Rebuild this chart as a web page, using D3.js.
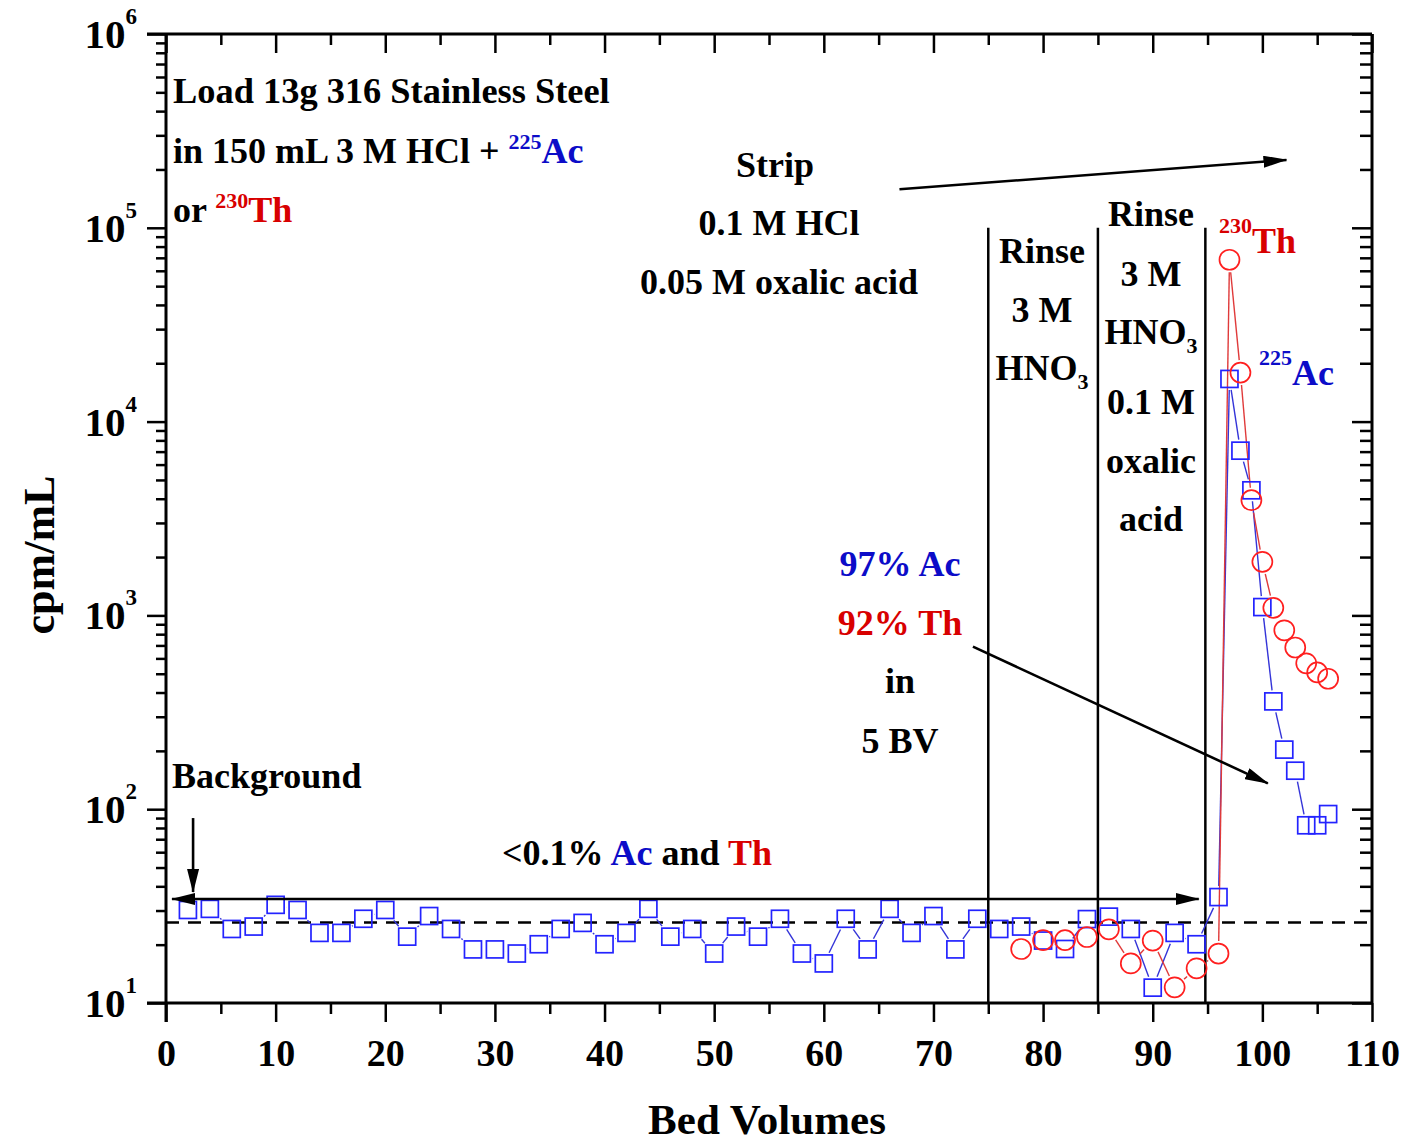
<!DOCTYPE html>
<html>
<head>
<meta charset="utf-8">
<script src="https://cdn.jsdelivr.net/npm/d3@7"></script>
<style>
  body { margin: 0; background: #fff; }
  svg text { font-family: "Liberation Serif", "Times New Roman", serif; font-weight: bold; }
</style>
</head>
<body>
<svg id="chart" width="1403" height="1143"></svg>
<script>
// 225Ac elution profile (bed volumes vs activity, cpm/mL)
const acBV  = [2, 4, 6, 8, 10, 12, 14, 16, 18, 20, 22, 24, 26, 28, 30, 32, 34, 36, 38, 40,
               42, 44, 46, 48, 50, 52, 54, 56, 58, 60, 62, 64, 66, 68, 70, 72, 74, 76, 78, 80,
               82, 84, 86, 88, 90, 92, 94, 96, 97, 98, 99, 100, 101, 102, 103, 104, 105, 106];
const acCpm = [30.2, 30.6, 24.1, 24.8, 32.1, 30.2, 23.0, 23.0, 27.2, 30.2, 22.0, 28.1, 24.1, 18.9, 18.9, 18.0, 20.1, 24.1, 25.9, 20.1,
               23.0, 30.6, 22.0, 24.1, 18.0, 24.8, 22.0, 27.2, 18.0, 16.0, 27.2, 18.9, 30.6, 23.0, 28.1, 18.9, 27.2, 24.1, 24.8, 21.0,
               19.0, 27.1, 27.9, 24.1, 12.0, 23.0, 20.1, 35.2, 16600, 7080, 4420, 1104, 360, 203, 158, 82.6, 82.6, 94.4];

// 230Th elution profile
const thBV  = [78, 80, 82, 84, 86, 88, 90, 92, 94, 96, 97, 98, 99, 100, 101, 102, 103, 104, 105, 106];
const thCpm = [19.0, 21.1, 21.1, 21.9, 24.0, 16.0, 21.0, 12.05, 15.1, 18.0, 68400, 17900, 3930, 1890, 1094, 838, 683, 566, 508, 471];

// axis ticks
const xMajorTicks = [0, 10, 20, 30, 40, 50, 60, 70, 80, 90, 100, 110];
const xMinorTicks = [5, 15, 25, 35, 45, 55, 65, 75, 85, 95, 105];
const yExponents  = [1, 2, 3, 4, 5, 6];

// step boundaries (load | rinse | rinse+oxalic | strip) and background level
const stepBoundaries = [75, 85, 94.8];
const backgroundLevel = 26;

const BLUE_MARK = "#2323ff", RED_MARK = "#ff1f1f";
const BLUE_TEXT = "#0c0cc8", RED_TEXT = "#d80000";

const svg = d3.select("#chart");
const L = 166, R = 1372, T = 34, B = 1003;
const x = d3.scaleLinear().domain([0, 110]).range([L, R]);
const y = d3.scaleLog().domain([10, 1e6]).range([B, T]);

const yMajor = yExponents.map(e => Math.pow(10, e));
const yMinor = [];
yExponents.slice(0, -1).forEach(e => { for (let m = 2; m <= 9; m++) yMinor.push(m * Math.pow(10, e)); });

// arrowhead marker
const defs = svg.append("defs");
defs.append("marker")
  .attr("id", "head").attr("viewBox", "0 0 24 12")
  .attr("refX", 23).attr("refY", 6)
  .attr("markerWidth", 24).attr("markerHeight", 12)
  .attr("markerUnits", "userSpaceOnUse")
  .attr("orient", "auto-start-reverse")
  .append("path").attr("d", "M0,0 L24,6 L0,12 Z").attr("fill", "#000");

// ---------- axes ----------
function styleAxis(g, w) {
  g.select(".domain").remove();
  g.selectAll(".tick line").attr("stroke", "#000").attr("stroke-width", w);
}
const axBottom = svg.append("g").attr("transform", `translate(0,${B})`)
  .call(d3.axisBottom(x).tickValues(xMajorTicks).tickSize(19).tickPadding(17).tickFormat(d3.format("d")));
styleAxis(axBottom, 2.5);
axBottom.selectAll("text").attr("font-size", 38).attr("fill", "#000")
  .style("font-family", '"Liberation Serif","Times New Roman",serif').style("font-weight", "bold");
svg.append("g").attr("transform", `translate(0,${B})`)
  .call(d3.axisBottom(x).tickValues(xMinorTicks).tickSize(11).tickFormat(""))
  .call(g => styleAxis(g, 2.5));

const axTop = svg.append("g").attr("transform", `translate(0,${T})`)
  .call(d3.axisTop(x).tickValues(xMajorTicks).tickSize(-19).tickFormat(""));
styleAxis(axTop, 2.5);
svg.append("g").attr("transform", `translate(0,${T})`)
  .call(d3.axisTop(x).tickValues(xMinorTicks).tickSize(-11).tickFormat(""))
  .call(g => styleAxis(g, 2.5));

svg.append("g").attr("transform", `translate(${L},0)`)
  .call(d3.axisLeft(y).tickValues(yMajor).tickSize(19).tickFormat(""))
  .call(g => styleAxis(g, 2.5));
svg.append("g").attr("transform", `translate(${L},0)`)
  .call(d3.axisLeft(y).tickValues(yMinor).tickSize(10).tickFormat(""))
  .call(g => styleAxis(g, 2.5));
svg.append("g").attr("transform", `translate(${R},0)`)
  .call(d3.axisRight(y).tickValues(yMajor).tickSize(-20).tickFormat(""))
  .call(g => styleAxis(g, 2.5));
svg.append("g").attr("transform", `translate(${R},0)`)
  .call(d3.axisRight(y).tickValues(yMinor).tickSize(-12).tickFormat(""))
  .call(g => styleAxis(g, 2.5));

// y tick labels as powers of ten
const yLab = svg.append("g");
yExponents.forEach(e => {
  const t = yLab.append("text").attr("x", 137).attr("y", y(Math.pow(10, e)) + 14)
    .attr("text-anchor", "end").attr("font-size", 41).attr("fill", "#000");
  t.append("tspan").text("10");
  t.append("tspan").attr("font-size", 23).attr("dy", -24).text(e);
});

// frame
const frame = svg.append("g").attr("stroke", "#000").attr("stroke-width", 3).attr("fill", "none");
frame.append("line").attr("x1", L - 19).attr("x2", R).attr("y1", T).attr("y2", T);
frame.append("line").attr("x1", L - 19).attr("x2", R).attr("y1", B).attr("y2", B);
frame.append("line").attr("x1", L).attr("x2", L).attr("y1", T).attr("y2", B + 19);
frame.append("line").attr("x1", R).attr("x2", R).attr("y1", T).attr("y2", B);

// axis titles
svg.append("text").attr("x", 767).attr("y", 1134).attr("text-anchor", "middle")
  .attr("font-size", 43).attr("fill", "#000").text("Bed Volumes");
svg.append("text").attr("transform", `translate(54,555) rotate(-90)`).attr("text-anchor", "middle")
  .attr("font-size", 44).attr("fill", "#000").text("cpm/mL");

// ---------- reference lines ----------
svg.append("line")
  .attr("x1", x(0)).attr("x2", x(110))
  .attr("y1", y(backgroundLevel)).attr("y2", y(backgroundLevel))
  .attr("stroke", "#000").attr("stroke-width", 2.5).attr("stroke-dasharray", "13,9");

svg.append("g").selectAll("line").data(stepBoundaries).join("line")
  .attr("x1", d => x(d)).attr("x2", d => x(d))
  .attr("y1", y(10)).attr("y2", y(1e5))
  .attr("stroke", "#000").attr("stroke-width", 2.5);

// ---------- series ----------
function gappedSegments(xs, ys, clip) {
  const pts = xs.map((v, i) => [x(v), y(ys[i])]);
  const segs = [];
  for (let i = 0; i < pts.length - 1; i++) {
    const [x0, y0] = pts[i], [x1, y1] = pts[i + 1];
    const dx = x1 - x0, dy = y1 - y0, len = Math.hypot(dx, dy);
    const ux = dx / len, uy = dy / len;
    const d = clip(ux, uy) + 2.5;
    if (len > 2 * d) segs.push([x0 + ux * d, y0 + uy * d, x1 - ux * d, y1 - uy * d]);
  }
  return segs;
}
const SQ = 8.5, CR = 10;
const squareClip = (ux, uy) => SQ / Math.max(Math.abs(ux), Math.abs(uy));
const circleClip = () => CR;

function drawLines(segs, color) {
  svg.append("g").selectAll("line").data(segs).join("line")
    .attr("x1", d => d[0]).attr("y1", d => d[1]).attr("x2", d => d[2]).attr("y2", d => d[3])
    .attr("stroke", color).attr("stroke-width", 1.4);
}
drawLines(gappedSegments(acBV, acCpm, squareClip), "#3434d8");
drawLines(gappedSegments(thBV, thCpm, circleClip), "#e03a3a");

svg.append("g").selectAll("rect").data(acBV).join("rect")
  .attr("x", (d) => x(d) - SQ).attr("y", (d, i) => y(acCpm[i]) - SQ)
  .attr("width", 2 * SQ).attr("height", 2 * SQ)
  .attr("fill", "none").attr("stroke", BLUE_MARK).attr("stroke-width", 1.7);

svg.append("g").selectAll("circle").data(thBV).join("circle")
  .attr("cx", d => x(d)).attr("cy", (d, i) => y(thCpm[i])).attr("r", CR)
  .attr("fill", "none").attr("stroke", RED_MARK).attr("stroke-width", 1.7);

// ---------- arrows ----------
function arrow(x1, y1, x2, y2, both) {
  const l = svg.append("line").attr("x1", x(x1)).attr("y1", y(y1)).attr("x2", x(x2)).attr("y2", y(y2))
    .attr("stroke", "#000").attr("stroke-width", 2.6).attr("marker-end", "url(#head)");
  if (both) l.attr("marker-start", "url(#head)");
}
arrow(0.55, 34.4, 94.2, 34.4, true);       // loading window
arrow(2.47, 90, 2.47, 37.4, false);        // background pointer
arrow(66.9, 1.58e5, 102.2, 2.24e5, false); // strip
arrow(73.6, 690, 100.5, 136, false);       // recovery

// ---------- annotations ----------
function label(px, py, anchor, parts, size) {
  const t = svg.append("text").attr("x", px).attr("y", py).attr("text-anchor", anchor)
    .attr("font-size", size || 36).attr("fill", "#000");
  parts.forEach(p => {
    const s = t.append("tspan").text(p.t);
    if (p.c) s.attr("fill", p.c);
    if (p.s) s.attr("font-size", p.s);
    if (p.dy) s.attr("dy", p.dy);
  });
  return t;
}
label(173, 103, "start", [{t: "Load 13g 316 Stainless Steel"}], 36.4);
label(173, 163, "start", [{t: "in 150 mL 3 M HCl + "}, {t: "225", c: BLUE_TEXT, s: 22, dy: -14}, {t: "Ac", c: BLUE_TEXT, dy: 14}]);
label(173, 222, "start", [{t: "or "}, {t: "230", c: RED_TEXT, s: 22, dy: -14}, {t: "Th", c: RED_TEXT, dy: 14}]);

label(775, 177, "middle", [{t: "Strip"}]);
label(779, 235, "middle", [{t: "0.1 M HCl"}]);
label(779, 294, "middle", [{t: "0.05 M oxalic acid"}]);

label(1042, 263, "middle", [{t: "Rinse"}]);
label(1042, 322, "middle", [{t: "3 M"}]);
label(1042, 380, "middle", [{t: "HNO"}, {t: "3", s: 22, dy: 9}]);

label(1151, 226, "middle", [{t: "Rinse"}]);
label(1151, 286, "middle", [{t: "3 M"}]);
label(1151, 344, "middle", [{t: "HNO"}, {t: "3", s: 22, dy: 9}]);
label(1151, 414, "middle", [{t: "0.1 M"}]);
label(1151, 473, "middle", [{t: "oxalic"}]);
label(1151, 531, "middle", [{t: "acid"}]);

label(900, 576, "middle", [{t: "97% Ac", c: BLUE_TEXT}]);
label(900, 635, "middle", [{t: "92% Th", c: RED_TEXT}]);
label(900, 693, "middle", [{t: "in"}]);
label(900, 753, "middle", [{t: "5 BV"}]);

label(172, 788, "start", [{t: "Background"}]);
label(637, 865, "middle", [{t: "<0.1% "}, {t: "Ac", c: BLUE_TEXT}, {t: " and "}, {t: "Th", c: RED_TEXT}]);

label(1219, 253, "start", [{t: "230", s: 22, dy: -20}, {t: "Th", dy: 20}]).attr("fill", RED_TEXT);
label(1259, 385, "start", [{t: "225", s: 22, dy: -20}, {t: "Ac", dy: 20}]).attr("fill", BLUE_TEXT);
</script>
</body>
</html>
